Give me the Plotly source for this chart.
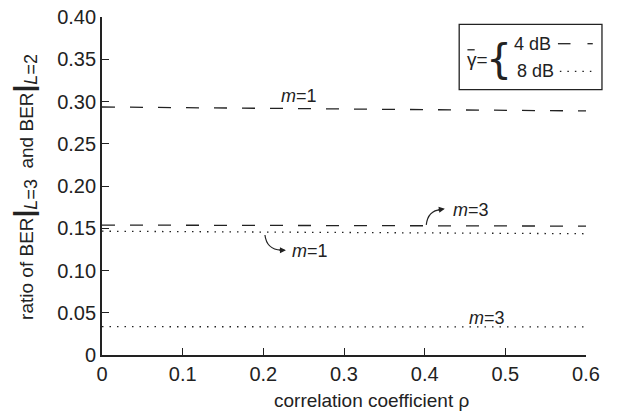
import plotly.graph_objects as go

# ---- data ----
rho = [0.0, 0.1, 0.2, 0.3, 0.4, 0.5, 0.6]
ber_4db_m1 = [0.2935, 0.2928, 0.2920, 0.2912, 0.2903, 0.2895, 0.2888]
ber_4db_m3 = [0.1538, 0.1536, 0.1534, 0.1532, 0.1530, 0.1527, 0.1525]
ber_8db_m1 = [0.1465, 0.1460, 0.1455, 0.1450, 0.1445, 0.1440, 0.1435]
ber_8db_m3 = [0.0335, 0.0334, 0.0334, 0.0333, 0.0333, 0.0332, 0.0332]
x_ticks = [0, 0.1, 0.2, 0.3, 0.4, 0.5, 0.6]
x_tick_labels = ["0", "0.1", "0.2", "0.3", "0.4", "0.5", "0.6"]
y_ticks = [0, 0.05, 0.10, 0.15, 0.20, 0.25, 0.30, 0.35, 0.40]
y_tick_labels = ["0", "0.05", "0.10", "0.15", "0.20", "0.25", "0.30", "0.35", "0.40"]

FONT = "Liberation Sans, Arial, sans-serif"
DASH = "13px,15px"
DOT = "1.5px,6px"
C = "#222222"

fig = go.Figure()
for y, d in [(ber_4db_m1, DASH), (ber_4db_m3, DASH), (ber_8db_m1, DOT), (ber_8db_m3, DOT)]:
    fig.add_trace(go.Scatter(x=rho, y=y, mode="lines",
                             line=dict(color=C, width=1.3, dash=d),
                             showlegend=False, hoverinfo="skip"))

ann = []
def label(x, y, t):
    ann.append(dict(x=x, y=y, xref="x", yref="y", text=t, showarrow=False,
                    xanchor="center", yanchor="middle",
                    font=dict(family=FONT, size=18, color=C)))

label(0.244, 0.306, "<i>m</i>=1")
label(0.457, 0.172, "<i>m</i>=3")
label(0.258, 0.123, "<i>m</i>=1")
label(0.477, 0.044, "<i>m</i>=3")

# arrowheads
ann.append(dict(x=0.425, y=0.173, ax=0.415, ay=0.1715, xref="x", yref="y", axref="x", ayref="y",
                text="", showarrow=True, arrowhead=2, arrowsize=1, arrowwidth=1.2, arrowcolor=C))
ann.append(dict(x=0.228, y=0.124, ax=0.218, ay=0.124, xref="x", yref="y", axref="x", ayref="y",
                text="", showarrow=True, arrowhead=2, arrowsize=1, arrowwidth=1.2, arrowcolor=C))

shapes = []
# curved arrow bodies
shapes.append(dict(type="path", xref="x", yref="y",
                   path="M 0.402 0.154 Q 0.404 0.171 0.420 0.172",
                   line=dict(color=C, width=1.2)))
shapes.append(dict(type="path", xref="x", yref="y",
                   path="M 0.202 0.142 Q 0.204 0.125 0.222 0.124",
                   line=dict(color=C, width=1.2)))

# legend box
shapes.append(dict(type="rect", xref="paper", yref="paper", x0=0.738, x1=1.033, y0=0.785, y1=0.978,
                   line=dict(color=C, width=1.3), fillcolor="white", layer="above"))
# legend samples
shapes.append(dict(type="line", xref="paper", yref="paper", x0=0.942, x1=0.968, y0=0.921, y1=0.921,
                   line=dict(color=C, width=1.3)))
shapes.append(dict(type="line", xref="paper", yref="paper", x0=1.003, x1=1.014, y0=0.921, y1=0.921,
                   line=dict(color=C, width=1.3)))
shapes.append(dict(type="line", xref="paper", yref="paper", x0=0.946, x1=1.014, y0=0.839, y1=0.839,
                   line=dict(color=C, width=1.3, dash="1.5px,6px")))
# macron over gamma
shapes.append(dict(type="line", xref="paper", yref="paper", x0=0.755, x1=0.770, y0=0.903, y1=0.903,
                   line=dict(color=C, width=1.3)))

def pann(x, y, t, size, fam=FONT, xa="center", angle=0):
    ann.append(dict(x=x, y=y, xref="paper", yref="paper", text=t, showarrow=False,
                    xanchor=xa, yanchor="middle", textangle=angle,
                    font=dict(family=fam, size=size, color=C)))

pann(0.776, 0.874, "γ=", 19)
pann(0.821, 0.876, "{", 41, "DejaVu Sans, sans-serif")
pann(0.848, 0.921, "4 dB", 18, xa="left")
pann(0.854, 0.839, "8 dB", 18, xa="left")

# axis titles (placed as annotations to match their offsets)
pann(0.556, -0.135, "correlation coefficient ρ", 19)
pann(-0.160, 0.496,
     "ratio of BER<b><span style='font-size:28px'>|</span></b><sub><span style='font-size:18px'><i>L</i>=3</span></sub>  and BER<b><span style='font-size:28px'>|</span></b><sub><span style='font-size:18px'><i>L</i>=2</span></sub>",
     19, angle=-90)

fig.update_layout(
    width=625, height=409,
    margin=dict(l=94, r=47, t=9, b=62),
    paper_bgcolor="white", plot_bgcolor="white",
    font=dict(family=FONT, size=19, color=C),
    annotations=ann, shapes=shapes,
    xaxis=dict(range=[0, 0.6], tickvals=x_ticks, ticktext=x_tick_labels, automargin=False,
               ticks="inside", ticklen=7, tickcolor=C, tickwidth=1.3, showgrid=False, zeroline=False,
               showline=True, linecolor=C, linewidth=1.8, ticklabeloverflow="allow",
               tickfont=dict(size=20)),
    yaxis=dict(range=[0, 0.40], tickvals=y_ticks, ticktext=y_tick_labels, automargin=False,
               ticks="inside", ticklen=7, tickcolor=C, tickwidth=1.3, showgrid=False, zeroline=False,
               showline=True, linecolor=C, linewidth=1.8, ticklabeloverflow="allow",
               tickfont=dict(size=20)),
)

fig.write_html("out.html")
